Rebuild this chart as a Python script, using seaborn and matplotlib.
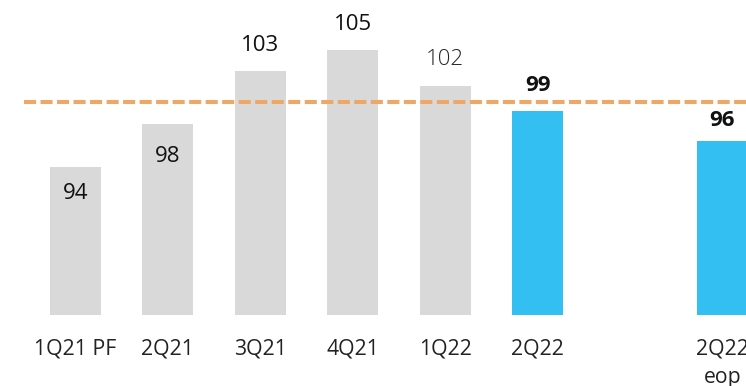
import matplotlib
matplotlib.use("Agg")
import matplotlib.pyplot as plt
import seaborn as sns
import pandas as pd

# ---- data ----
categories = ["1Q21 PF", "2Q21", "3Q21", "4Q21", "1Q22", "2Q22", "", "2Q22\neop"]
values = [94, 98, 103, 105, 101.6, 99.2, None, 96.4]
value_labels = ["94", "98", "103", "105", "102", "99", "", "96"]
kinds = ["hist", "hist", "hist", "hist", "hist", "current", "gap", "current"]
target_line = 100.1

sns.set_theme(style="white")
plt.rcParams["font.family"] = ["Open Sans", "DejaVu Sans"]

df = pd.DataFrame({"cat": categories, "val": values, "kind": kinds})
df = df[df["kind"] != "gap"]

fig = plt.figure(figsize=(7.46, 3.86), dpi=100)
ax = fig.add_axes([0, 1 - 315 / 386, 1, 315 / 386])

palette = {"hist": "#D9D9D9", "current": "#33BFF2"}
sns.barplot(data=df, x="cat", y="val", hue="kind", order=categories,
            palette=palette, width=0.552, dodge=False, legend=False,
            saturation=1, linewidth=0, ax=ax)

ax.set_xlim(-0.817, 7.256)
ax.set_ylim(80, 80 + 315 / 10.6)

# dashed target line
ax.plot([-0.557, 7.5], [target_line, target_line], color="#EFA766",
        lw=2.9, dashes=(3, 1.1), solid_capstyle="butt", zorder=5)

# value labels
styles = {
    "94": dict(dy=-27, weight="normal"),
    "98": dict(dy=-32, weight="normal"),
    "103": dict(dy=26, weight="normal"),
    "105": dict(dy=26, weight="normal"),
    "102": dict(dy=27, weight="light", color="#262626"),
    "99": dict(dy=26, weight="bold"),
    "96": dict(dy=21, weight="bold"),
}
for i, (v, lab) in enumerate(zip(values, value_labels)):
    if v is None:
        continue
    st = styles[lab]
    ax.annotate(lab, (i, v), xytext=(0, st["dy"] / 1.389), textcoords="offset points",
                ha="center", va="center", fontsize=16, fontweight=st["weight"],
                color=st.get("color", "#111111"), annotation_clip=False, zorder=6)

ax.set_xlabel("")
ax.set_ylabel("")
ax.set_yticks([])
ax.tick_params(axis="x", length=0, pad=17, labelsize=15.3, labelcolor="#222222")
for lbl in ax.get_xticklabels():
    lbl.set_linespacing(1.45)
for s in ax.spines.values():
    s.set_visible(False)

fig.savefig("out.png", dpi=100)
